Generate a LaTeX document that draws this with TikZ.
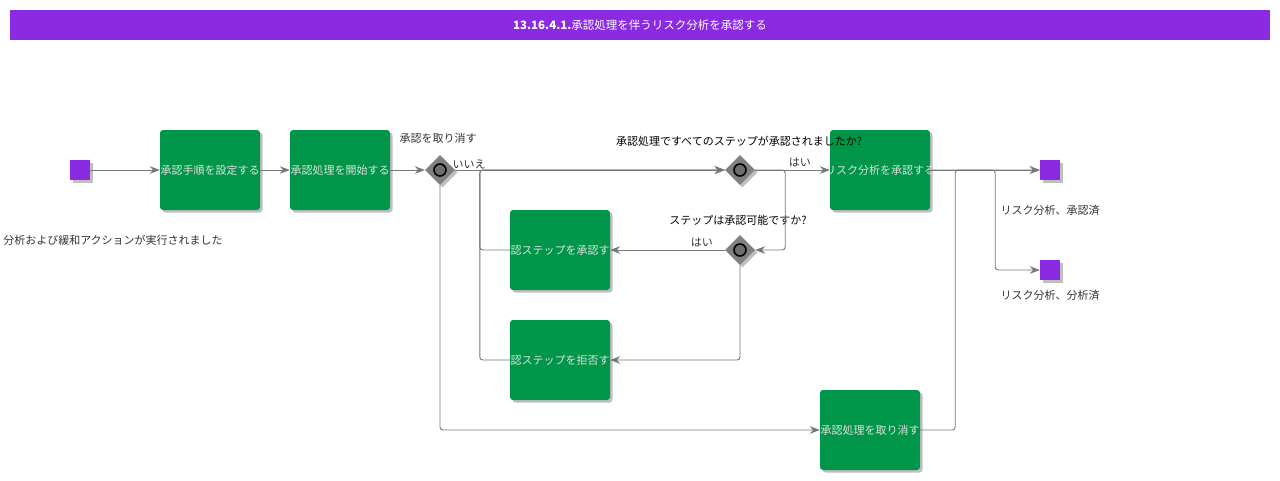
\documentclass[tikz,border=0pt]{standalone}
\usepackage{fontspec}
\newfontfamily\jp{Noto Sans CJK JP}
\usetikzlibrary{shadows,arrows.meta,shapes.geometric,calc}
\definecolor{bpurple}{HTML}{8A2BE2}
\definecolor{bgreen}{HTML}{009649}
\definecolor{conncol}{HTML}{777777}
\definecolor{gwfill}{HTML}{808080}
\newcommand{\ovl}[1]{\makebox[0pt]{#1}}
\tikzset{
  shad/.style={drop shadow={shadow xshift=2.5pt,shadow yshift=-2.5pt,fill=black,opacity=0.25}},
  task/.style={rectangle,rounded corners=3pt,fill=bgreen,minimum width=100pt,minimum height=80pt,inner sep=0pt,
    text=white!88!black,font=\jp\fontsize{11}{13}\selectfont,shad},
  evt/.style={rectangle,fill=bpurple,minimum size=20pt,inner sep=0pt,shad},
  gw/.style={diamond,fill=gwfill,minimum width=30pt,minimum height=30pt,inner sep=0pt,shad},
  gwin/.style={circle,draw=black,line width=1.6pt,fill=gwfill!85!black,minimum size=12pt,inner sep=0pt},
  lbl/.style={font=\jp\fontsize{11}{13}\selectfont,text=black!80,inner sep=0pt},
  conn/.style={draw=conncol,line width=0.9pt,rounded corners=3pt,-{Stealth[length=10pt,width=7.5pt]}},
}
\begin{document}
\begin{tikzpicture}[x=1pt,y=-1pt]
\useasboundingbox[fill=white] (0,0) rectangle (1280,480);
% title
\node[fill=bpurple,minimum width=1260pt,minimum height=30pt,inner sep=0pt,text=white,
  font=\jp\fontsize{11.5}{13}\selectfont] (title) at (640,25) {{\bfseries 13.16.4.1.}承認処理を伴うリスク分析を承認する};
% events
\node[evt] (s) at (80,170) {};
\node[evt] (e1) at (1050,170) {};
\node[evt] (e2) at (1050,270) {};
% tasks
\node[task] (t1) at (210,170) {\ovl{承認手順を設定する}};
\node[task] (t2) at (340,170) {\ovl{承認処理を開始する}};
\node[task] (t3) at (880,170) {\ovl{リスク分析を承認する}};
\node[task] (t4) at (560,250) {\ovl{認ステップを承認す}};
\node[task] (t5) at (560,360) {\ovl{認ステップを拒否す}};
\node[task] (t6) at (870,430) {\ovl{承認処理を取り消す}};
% gateways
\node[gw] (g1) at (440,170) {};
\node[gwin] (g1i) at (g1) {};
\node[gw] (g2) at (740,170) {};
\node[gwin] (g2i) at (g2) {};
\node[gw] (g3) at (740,250) {};
\node[gwin] (g3i) at (g3) {};
% labels
\node[lbl] (ls) at (113,240) {分析および緩和アクションが実行されました};
\node[lbl] (lg1) at (438,138) {承認を取り消す};
\node[lbl,text=black] (lg2) at (739,141) {承認処理ですべてのステップが承認されましたか?};
\node[lbl,text=black] (lg3) at (738,220) {ステップは承認可能ですか?};
\node[lbl] (le1) at (1050,210) {リスク分析、承認済};
\node[lbl] (le2) at (1050,295) {リスク分析、分析済};
% connectors
\draw[conn] (s) -- (t1);
\draw[conn] (t1) -- (t2);
\draw[conn] (t2) -- (g1);
\draw[conn] (g1) -- node[lbl,pos=0,anchor=south west,xshift=-3pt,yshift=1pt]{いいえ} (g2);
\draw[conn] (g1) |- (t6);
\draw[conn] (g2) -- node[lbl,pos=0.6,anchor=south,yshift=3pt]{はい} (t3);
\draw[conn] (g2.east) -- ++(30,0) |- (g3.east);
\draw[conn] (g3) -- node[lbl,pos=0.2,anchor=south,yshift=3pt]{はい} (t4);
\draw[conn] (g3) |- (t5);
\draw[conn] (t4.west) -- ++(-30,0) |- (g2.west);
\draw[conn] (t5.west) -- ++(-30,0) |- (g2.west);
\draw[conn] (t3) -- (e1);
\draw[conn] (t3.east) -- ++(65,0) |- (e2);
\draw[conn] (t6.east) -- ++(35,0) |- (e1.west);
\end{tikzpicture}
\end{document}
